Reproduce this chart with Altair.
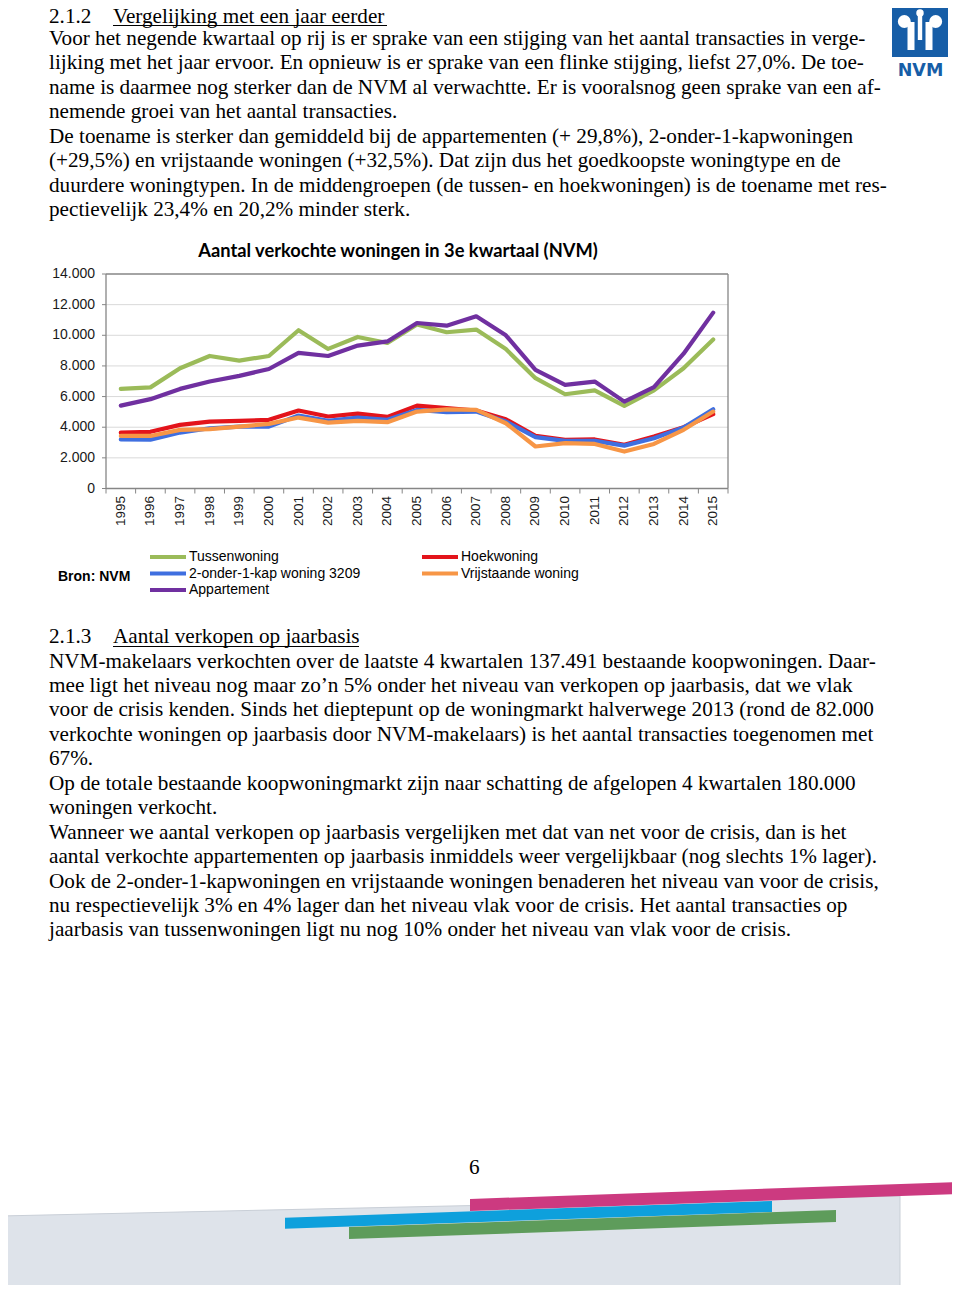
import altair as alt
import pandas as pd

# ---------------- data ----------------
years = list(range(1995, 2016))
year_labels = [str(y) for y in years]
series_names = ["Tussenwoning", "Hoekwoning", "2-onder-1-kap woning 3209", "Vrijstaande woning", "Appartement"]
series_colors = ["#9BBB59", "#E3141B", "#3F6FE0", "#F79646", "#7030A0"]
tussenwoning = [6500, 6600, 7850, 8650, 8350, 8650, 10330, 9110, 9890, 9500, 10700, 10200, 10370, 9100, 7200, 6150, 6400, 5390, 6400, 7850, 9720]
hoekwoning = [3650, 3700, 4150, 4370, 4410, 4480, 5090, 4700, 4890, 4670, 5410, 5240, 5090, 4520, 3430, 3170, 3200, 2850, 3390, 4000, 4850]
twee_onder_een_kap = [3200, 3190, 3650, 3930, 4040, 4040, 4760, 4410, 4630, 4480, 5130, 4980, 5020, 4370, 3350, 3110, 3110, 2800, 3280, 3980, 5170]
vrijstaande = [3430, 3430, 3830, 3870, 4040, 4220, 4630, 4300, 4410, 4330, 5020, 5170, 5130, 4260, 2740, 2960, 2910, 2410, 2910, 3830, 5020]
appartement = [5410, 5830, 6500, 6980, 7350, 7800, 8850, 8650, 9330, 9600, 10800, 10630, 11240, 10000, 7740, 6760, 6980, 5670, 6610, 8800, 11480]
y_tick_values = [0, 2000, 4000, 6000, 8000, 10000, 12000, 14000]
y_tick_labels = ["0", "2.000", "4.000", "6.000", "8.000", "10.000", "12.000", "14.000"]

chart_title = "Aantal verkochte woningen in 3e kwartaal (NVM)"
source_label = "Bron: NVM"

heading1_num = "2.1.2"
heading1 = "Vergelijking met een jaar eerder"
para1 = [
    "Voor het negende kwartaal op rij is er sprake van een stijging van het aantal transacties in verge-",
    "lijking met het jaar ervoor. En opnieuw is er sprake van een flinke stijging, liefst 27,0%. De toe-",
    "name is daarmee nog sterker dan de NVM al verwachtte. Er is vooralsnog geen sprake van een af-",
    "nemende groei van het aantal transacties.",
    "De toename is sterker dan gemiddeld bij de appartementen (+ 29,8%), 2-onder-1-kapwoningen",
    "(+29,5%) en vrijstaande woningen (+32,5%). Dat zijn dus het goedkoopste woningtype en de",
    "duurdere woningtypen. In de middengroepen (de tussen- en hoekwoningen) is de toename met res-",
    "pectievelijk 23,4% en 20,2% minder sterk.",
]
heading2_num = "2.1.3"
heading2 = "Aantal verkopen op jaarbasis"
para2 = [
    "NVM-makelaars verkochten over de laatste 4 kwartalen 137.491 bestaande koopwoningen. Daar-",
    "mee ligt het niveau nog maar zo\u2019n 5% onder het niveau van verkopen op jaarbasis, dat we vlak",
    "voor de crisis kenden. Sinds het dieptepunt op de woningmarkt halverwege 2013 (rond de 82.000",
    "verkochte woningen op jaarbasis door NVM-makelaars) is het aantal transacties toegenomen met",
    "67%.",
    "Op de totale bestaande koopwoningmarkt zijn naar schatting de afgelopen 4 kwartalen 180.000",
    "woningen verkocht.",
    "Wanneer we aantal verkopen op jaarbasis vergelijken met dat van net voor de crisis, dan is het",
    "aantal verkochte appartementen op jaarbasis inmiddels weer vergelijkbaar (nog slechts 1% lager).",
    "Ook de 2-onder-1-kapwoningen en vrijstaande woningen benaderen het niveau van voor de crisis,",
    "nu respectievelijk 3% en 4% lager dan het niveau vlak voor de crisis. Het aantal transacties op",
    "jaarbasis van tussenwoningen ligt nu nog 10% onder het niveau van vlak voor de crisis.",
]
page_number = "6"

# ---------------- build tables ----------------
values = [tussenwoning, hoekwoning, twee_onder_een_kap, vrijstaande, appartement]
rows = []
for name, vals in zip(series_names, values):
    for y, v in zip(years, vals):
        rows.append({"jaar": y, "aantal": v, "serie": name})
df = pd.DataFrame(rows)

SERIF = "Liberation Serif"
SANS = "Liberation Sans"
BODY = 21.2
O = 8  # page margin offset

X0, X1 = 106 - O, 728 - O
Y0, Y14 = 488.5 - O, 274 - O
xs = alt.Scale(domain=[1994.5, 2015.5], range=[X0, X1], nice=False, zero=False)
ys = alt.Scale(domain=[0, 14000], range=[Y0, Y14], nice=False, zero=False)
cs = alt.Scale(domain=series_names, range=series_colors)

dummy = alt.Chart(pd.DataFrame({"k": [0]}))


def txt(s, x, y, size=BODY, font=SERIF, weight="normal", align="left", baseline="middle", color="#000000"):
    return dummy.mark_text(text=s, fontSize=size, font=font, fontWeight=weight, align=align,
                           baseline=baseline, color=color).encode(x=alt.value(x - O), y=alt.value(y - O))


def rule(x, x2, y, y2, color, width=1.0):
    return dummy.mark_rule(color=color, strokeWidth=width).encode(
        x=alt.value(x - O), x2=alt.value(x2 - O), y=alt.value(y - O), y2=alt.value(y2 - O))


def shape(path, color, stroke=None):
    kw = dict(shape=path, size=4, filled=True, fill=color, opacity=1, strokeWidth=0)
    if stroke:
        kw.update(stroke=stroke, strokeWidth=1)
    return dummy.mark_point(**kw).encode(x=alt.value(0), y=alt.value(0))


layers = []

# ----- page decorations (bottom) -----
layers.append(shape("M-8,1208 L892,1188 L892,1290 L-8,1290 Z", "#DEE3EA", stroke="#C9CFD7"))
layers.append(shape("M277,1209.7 L764,1193 L764,1204 L277,1220.7 Z", "#0EA0DC"))
layers.append(shape("M341,1219 L828,1202 L828,1214 L341,1231 Z", "#5E9C5B"))
layers.append(shape("M462,1191 L952,1174 L952,1186 L462,1203 Z", "#CC3A80"))

# ----- NVM logo -----
LOGO = "#175EA7"
layers.append(dummy.mark_rect(color=LOGO).encode(x=alt.value(892 - O), x2=alt.value(948 - O),
                                                 y=alt.value(0), y2=alt.value(57 - O)))
for cx, cy, r in [(904.3, 21.5, 7.3), (935.7, 21.5, 7.3), (920, 13, 4.2)]:
    layers.append(dummy.mark_circle(color="white", opacity=1, size=3.1416 * r * r).encode(
        x=alt.value(cx - O), y=alt.value(cy - O)))
for a, b, c, d in [(907.5, 914.5, 22, 50), (925.5, 932.5, 22, 50), (917.8, 922.2, 13, 40)]:
    layers.append(dummy.mark_rect(color="white").encode(x=alt.value(a - O), x2=alt.value(b - O),
                                                        y=alt.value(c - O), y2=alt.value(d - O)))
layers.append(txt("NVM", 920.5, 71, size=17.5, font="DejaVu Sans", weight="bold", align="center", color=LOGO))

# ----- text section 1 -----
layers.append(txt(heading1_num, 49, 16.5))
layers.append(txt(heading1, 113, 16.5))
layers.append(rule(113, 387, 25.5, 25.5, "#000000", 1))
for i, line in enumerate(para1):
    layers.append(txt(line, 49, 38.8 + i * 24.45))

# ----- chart frame / grid -----
grid_df = pd.DataFrame({"v": y_tick_values[1:-1]})
layers.append(alt.Chart(grid_df).mark_rule(color="#D9D9D9", strokeWidth=1).encode(
    y=alt.Y("v:Q", scale=ys, axis=None), x=alt.value(X0), x2=alt.value(X1)))
ylab_df = pd.DataFrame({"v": y_tick_values, "label": y_tick_labels})
layers.append(alt.Chart(ylab_df).mark_rule(color="#868686").encode(
    y=alt.Y("v:Q", scale=ys, axis=None), x=alt.value(X0 - 4), x2=alt.value(X0)))
AX = "#868686"
layers.append(rule(106, 106, 274, 488.5, AX, 1.3))
layers.append(rule(106, 728, 488.5, 488.5, AX, 1.3))
layers.append(rule(106, 728, 274, 274, AX, 1.3))
layers.append(rule(728, 728, 274, 488.5, AX, 1.3))
bound_df = pd.DataFrame({"b": [1994.5 + i for i in range(22)]})
layers.append(alt.Chart(bound_df).mark_rule(color=AX, strokeWidth=1).encode(
    x=alt.X("b:Q", scale=xs, axis=None), y=alt.value(Y0), y2=alt.value(Y0 + 5)))

# ----- series lines -----
for name in series_names:
    layers.append(alt.Chart(df).transform_filter(alt.datum.serie == name).mark_line(
        strokeWidth=4.2, strokeJoin="round", strokeCap="round").encode(
        x=alt.X("jaar:Q", scale=xs, axis=None),
        y=alt.Y("aantal:Q", scale=ys, axis=None),
        color=alt.Color("serie:N", scale=cs, legend=None)))

# ----- axis labels -----
layers.append(alt.Chart(ylab_df).mark_text(align="right", baseline="middle", font=SANS, fontSize=14,
                                           color="#1a1a1a").encode(
    y=alt.Y("v:Q", scale=ys, axis=None), x=alt.value(95 - O), text="label:N"))
ylabs = pd.DataFrame({"jaar": years, "lab": year_labels})
layers.append(alt.Chart(ylabs).mark_text(angle=270, align="right", baseline="middle", font=SANS,
                                         fontSize=13.5, color="#1a1a1a").encode(
    x=alt.X("jaar:Q", scale=xs, axis=None), y=alt.value(496 - O), text="lab:N"))

# ----- chart title -----
layers.append(txt(chart_title, 398, 252, size=18.3, font="Lato", weight="bold", align="center"))

# ----- legend -----
leg_pos = {
    "Tussenwoning": (150, 557),
    "2-onder-1-kap woning 3209": (150, 573.5),
    "Appartement": (150, 590),
    "Hoekwoning": (422, 557),
    "Vrijstaande woning": (422, 573.5),
}
leg_df = pd.DataFrame({"serie": series_names})
for name in series_names:
    lx, ly = leg_pos[name]
    layers.append(alt.Chart(leg_df).transform_filter(alt.datum.serie == name).mark_rule(
        strokeWidth=4).encode(color=alt.Color("serie:N", scale=cs, legend=None),
                              x=alt.value(lx - O), x2=alt.value(lx + 36 - O), y=alt.value(ly - O)))
    layers.append(txt(name, lx + 39, ly, size=14, font=SANS))
layers.append(txt(source_label, 58, 577, size=14, font=SANS, weight="bold"))

# ----- text section 2 -----
layers.append(txt(heading2_num, 49, 636.5))
layers.append(txt(heading2, 113, 636.5))
layers.append(rule(113, 359, 646.5, 646.5, "#000000", 1))
for i, line in enumerate(para2):
    layers.append(txt(line, 49, 661.5 + i * 24.45))

layers.append(txt(page_number, 469, 1168))

chart = alt.layer(*layers).properties(
    width=944, height=1277, padding=0, autosize="none", background="white"
).configure_view(stroke=None)

chart.save("out.html", embed_options={"renderer": "svg", "actions": False})
